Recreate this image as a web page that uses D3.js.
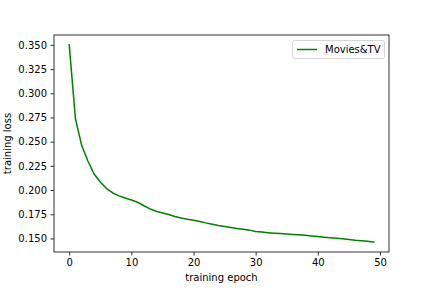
<!DOCTYPE html>
<html><head><meta charset="utf-8">
<script src="https://cdn.jsdelivr.net/npm/d3@7"></script>
<style>
body{margin:0;background:#fff;}
text{font-family:"DejaVu Sans",sans-serif;}
</style></head>
<body><svg id="chart" width="432" height="288"></svg>
<script>
const epochs = d3.range(0, 50);
const lossMoviesTV = [
0.3500,0.2737,0.2462,0.2300,0.2166,0.2084,0.2015,0.1970,0.1940,0.1918,
0.1898,0.1874,0.1838,0.1805,0.1781,0.1764,0.1747,0.1727,0.1712,0.1699,
0.1689,0.1675,0.1661,0.1647,0.1634,0.1624,0.1613,0.1603,0.1596,0.1586,
0.1572,0.1566,0.1560,0.1555,0.1550,0.1546,0.1542,0.1538,0.1532,0.1526,
0.1519,0.1513,0.1507,0.1501,0.1496,0.1489,0.1481,0.1476,0.1471,0.1462];
const xTicks = [0,10,20,30,40,50];
const yTicks = [0.150,0.175,0.200,0.225,0.250,0.275,0.300,0.325,0.350];
const seriesName = "Movies&TV";

const L=54,R=389,T=35,B=252;
const svg=d3.select("#chart");
const xr=d3.extent(epochs), yr=d3.extent(lossMoviesTV);
const xm=(xr[1]-xr[0])*0.05, ym=(yr[1]-yr[0])*0.05;
const x=d3.scaleLinear().domain([xr[0]-xm,xr[1]+xm]).range([L,R]);
const y=d3.scaleLinear().domain([yr[0]-ym,yr[1]+ym]).range([B,T]);

const line=d3.line().x((d,i)=>x(epochs[i])).y(d=>y(d));
svg.append("path").datum(lossMoviesTV).attr("d",line)
  .attr("fill","none").attr("stroke","#008000").attr("stroke-width",1.5)
  .attr("stroke-linejoin","round").attr("stroke-linecap","square");

const xa=svg.append("g").attr("transform",`translate(0,${B})`)
  .call(d3.axisBottom(x).tickValues(xTicks).tickSize(3.5).tickPadding(3.5).tickFormat(d3.format("d")));
const ya=svg.append("g").attr("transform",`translate(${L},0)`)
  .call(d3.axisLeft(y).tickValues(yTicks).tickSize(3.5).tickPadding(3.5).tickFormat(d3.format(".3f")));
[xa,ya].forEach(a=>{
  a.select(".domain").remove();
  a.selectAll(".tick line").attr("stroke","#000").attr("stroke-width",0.8);
  a.selectAll(".tick text").attr("font-size",10).attr("fill","#000").attr("font-family","DejaVu Sans");
});
// spines
svg.append("rect").attr("x",L).attr("y",T).attr("width",R-L).attr("height",B-T)
  .attr("fill","none").attr("stroke","#000").attr("stroke-width",0.8);

svg.append("text").attr("x",(L+R)/2).attr("y",281).attr("text-anchor","middle")
  .attr("font-size",10).text("training epoch");
svg.append("text").attr("transform",`translate(11,${(T+B)/2}) rotate(-90)`)
  .attr("text-anchor","middle").attr("font-size",10).text("training loss");

// legend
const lg=svg.append("g");
lg.append("rect").attr("x",292.5).attr("y",40.5).attr("width",92).attr("height",18).attr("rx",2)
  .attr("fill","#fff").attr("fill-opacity",0.8).attr("stroke","#ccc").attr("stroke-width",0.8);
lg.append("line").attr("x1",297).attr("x2",317).attr("y1",49.5).attr("y2",49.5)
  .attr("stroke","#008000").attr("stroke-width",1.5);
lg.append("text").attr("x",325).attr("y",53).attr("font-size",10).text(seriesName);
</script></body></html>
